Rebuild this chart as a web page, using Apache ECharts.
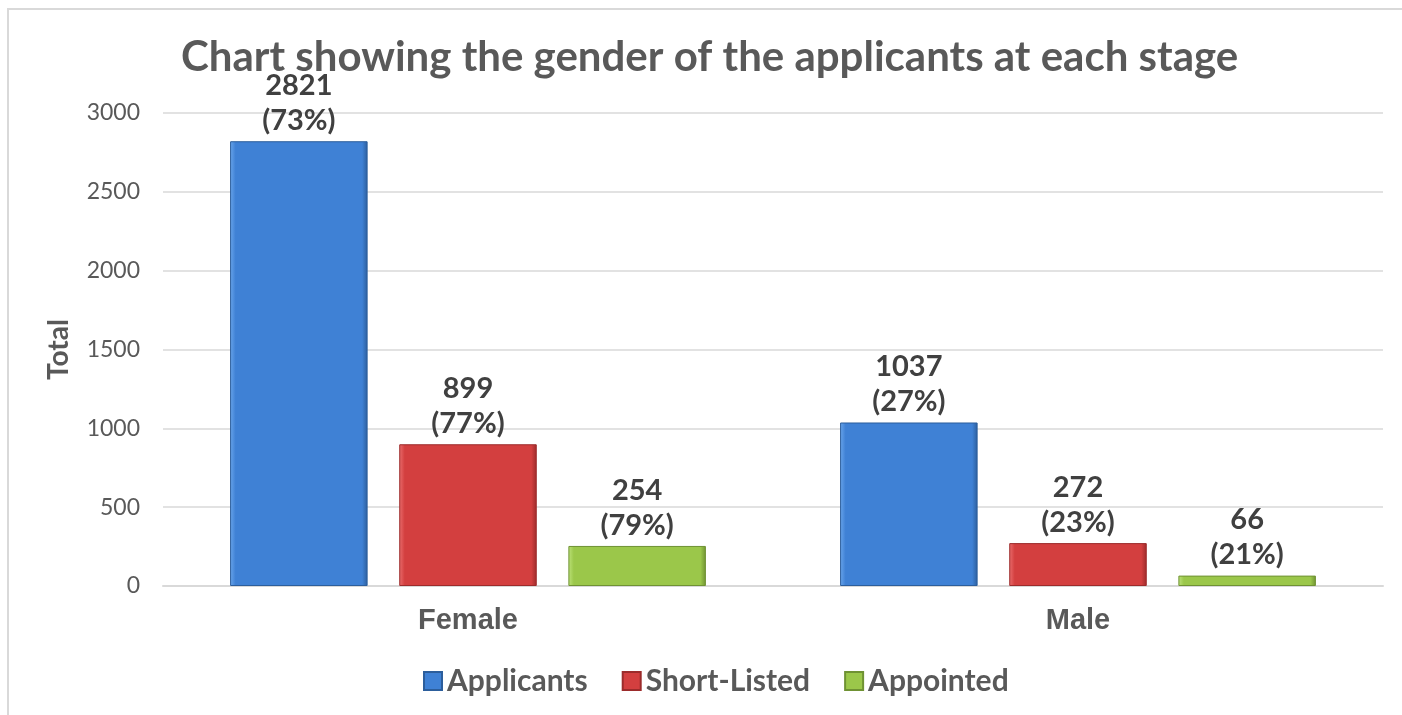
<!DOCTYPE html>
<html>
<head>
<meta charset="utf-8">
<script src="https://cdn.jsdelivr.net/npm/echarts@6/dist/echarts.min.js"></script>
<style>
  html, body { margin: 0; padding: 0; background: #fff; overflow: hidden; }
  #frame {
    position: absolute; left: 7px; top: 8px; width: 1420px; height: 740px;
    border: 2px solid #d9d9d9; box-sizing: border-box;
  }
  #chart { position: absolute; left: 0; top: 0; width: 1402px; height: 715px; }
</style>
</head>
<body>
<div id="frame"></div>
<div id="chart"></div>
<script>
const categories = ['Female', 'Male']
const seriesNames = ['Applicants', 'Short-Listed', 'Appointed']
const applicants = [2821, 1037]
const shortListed = [899, 272]
const appointed = [254, 66]
const applicantsPct = [73, 27]
const shortListedPct = [77, 23]
const appointedPct = [79, 21]

const bevel = (light, main, dark) => ({
  type: 'linear', x: 0, y: 0, x2: 1, y2: 0,
  colorStops: [
    { offset: 0, color: light },
    { offset: 0.04, color: main },
    { offset: 0.96, color: main },
    { offset: 1, color: dark }
  ]
})

const makeSeries = (name, values, pcts, colors) => ({
  name: name,
  type: 'bar',
  data: values,
  barGap: '23%',
  barCategoryGap: '22%',
  itemStyle: {
    color: bevel(colors[0], colors[1], colors[2]),
    borderColor: colors[2],
    borderWidth: 1
  },
  label: {
    show: true,
    position: 'top',
    distance: 3,
    color: '#404040',
    fontFamily: 'Lato',
    fontWeight: 'bold',
    fontSize: 29,
    lineHeight: 35,
    formatter: p => p.value + '\n(' + pcts[p.dataIndex] + '%)'
  }
})

const myChart = echarts.init(document.getElementById('chart'))

const option = {
  animation: false,
  title: {
    text: 'Chart showing the gender of the applicants at each stage',
    left: 176,
    top: 31,
    textStyle: {
      fontFamily: 'Lato',
      fontWeight: 'bold',
      fontSize: 42,
      color: '#595959'
    }
  },
  legend: {
    data: seriesNames,
    left: 418,
    top: 661,
    itemWidth: 18,
    itemHeight: 18,
    itemGap: 34,
    icon: 'rect',
    textStyle: {
      fontFamily: 'Lato',
      fontWeight: 'bold',
      fontSize: 30,
      color: '#595959'
    }
  },
  grid: {
    left: 163,
    right: 19,
    top: 113,
    bottom: 129
  },
  xAxis: {
    type: 'category',
    data: categories,
    axisLine: { show: true, lineStyle: { color: '#d9d9d9', width: 2 } },
    axisTick: { show: false },
    axisLabel: {
      margin: 20,
      color: '#595959',
      fontFamily: 'Liberation Sans',
      fontWeight: 'bold',
      fontSize: 29
    }
  },
  yAxis: {
    type: 'value',
    min: 0,
    max: 3000,
    interval: 500,
    name: 'Total',
    nameLocation: 'middle',
    nameGap: 90,
    nameRotate: 90,
    nameTextStyle: {
      fontFamily: 'Lato',
      fontWeight: 'bold',
      fontSize: 28,
      color: '#595959'
    },
    axisLine: { show: false },
    axisTick: { show: false },
    axisLabel: {
      margin: 23,
      color: '#595959',
      fontFamily: 'Lato',
      fontSize: 23,
      formatter: v => String(v)
    },
    splitLine: { lineStyle: { color: '#d9d9d9', width: 1.5 } }
  },
  series: [
    makeSeries('Applicants', applicants, applicantsPct, ['#6aa6ec', '#3f81d5', '#2c5e9c']),
    makeSeries('Short-Listed', shortListed, shortListedPct, ['#ea6e6e', '#d33f3f', '#9c2b2b']),
    makeSeries('Appointed', appointed, appointedPct, ['#bde27a', '#9bc74a', '#6f9233'])
  ]
}

myChart.setOption(option)
</script>
</body>
</html>
